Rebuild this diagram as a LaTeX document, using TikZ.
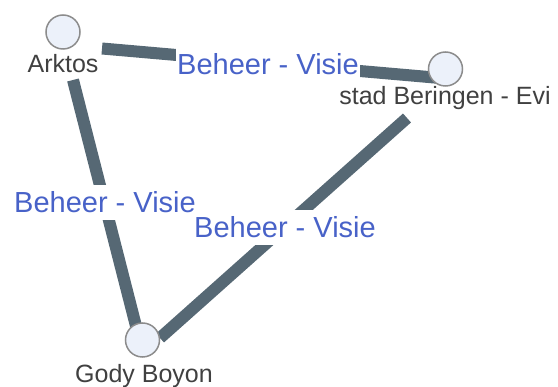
\documentclass[tikz,border=0pt]{standalone}
\usepackage{fontspec}
\setmainfont{Liberation Sans}
\usetikzlibrary{backgrounds}
\definecolor{edgecol}{RGB}{86,104,116}
\definecolor{labblue}{RGB}{72,98,200}
\definecolor{nodefill}{RGB}{236,241,250}
\definecolor{nodeline}{RGB}{140,140,140}
\definecolor{txtgray}{RGB}{64,64,64}
\begin{document}
\begin{tikzpicture}[x=1pt,y=-1pt,
  vertex/.style={circle,draw=nodeline,line width=1.5pt,fill=nodefill,minimum size=34pt,inner sep=0pt},
  vlabel/.style={text=txtgray,font=\fontsize{25}{30}\selectfont,inner sep=0pt,anchor=base},
  link/.style={draw=edgecol,line width=12pt},
  elabel/.style={text=labblue,fill=white,font=\fontsize{29}{34}\selectfont,anchor=base,
    inner xsep=1pt,inner ysep=7pt,text height=21pt,text depth=0pt}]
\useasboundingbox (0,0) rectangle (558,387);
% nodes
\node[vertex] (a) at (63,32) {};
\node[vertex] (b) at (445.5,69) {};
\node[vertex] (g) at (142.5,340) {};
\node[vlabel] (la) at (63,73) {Arktos};
\node[vlabel] (lb) at (445,105) {stad Beringen - Evi};
\node[vlabel] (lg) at (144,383) {Gody Boyon};
% edges
\begin{scope}[on background layer]
\draw[link] ([shift={(39,16.5)}]a.center) -- ([shift={(-5.5,9)}]b.center);
\draw[link] ([shift={(10,48)}]a.center) -- ([shift={(-5.5,-10)}]g.center);
\draw[link] ([shift={(-38.5,49)}]b.center) -- ([shift={(17.5,-2)}]g.center);
\end{scope}
% edge labels
\node[elabel] (e1) at (268,75) {Beheer - Visie};
\node[elabel] (e2) at (105,213) {Beheer - Visie};
\node[elabel] (e3) at (285,238) {Beheer - Visie};
\end{tikzpicture}
\end{document}
